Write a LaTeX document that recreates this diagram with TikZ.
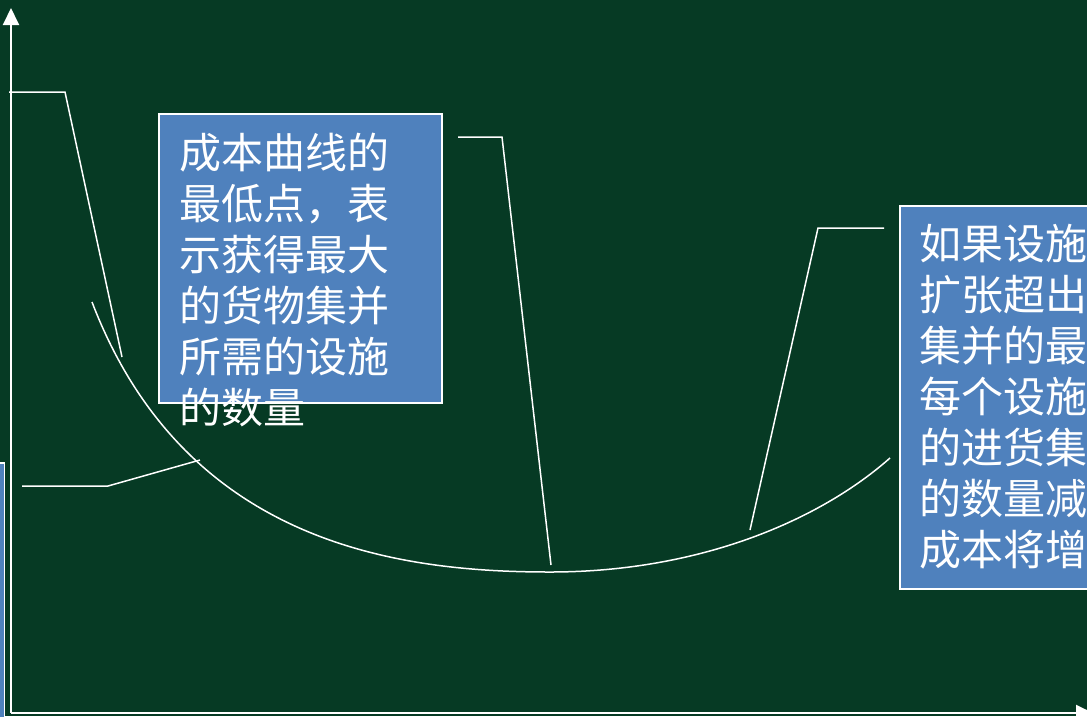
\documentclass[tikz,border=0pt]{standalone}
\usepackage{fontspec}
\newfontfamily\cjk{Noto Sans CJK SC}
\usepackage{tikz}
\definecolor{boardgreen}{HTML}{063A24}
\definecolor{noteblue}{HTML}{4F81BD}
\usetikzlibrary{arrows.meta}
\tikzstyle{nblock} = [rectangle, draw=white, line width=1.5pt, fill=noteblue, inner sep=0pt]
\tikzstyle{ntext} = [text=white, font=\cjk\fontsize{42}{51}\selectfont, align=left, inner sep=0pt, anchor=north west]
\tikzstyle{callout} = [white, line width=1.5pt]
\tikzstyle{axis} = [white, line width=2pt, -{Triangle[width=16pt,length=17pt]}]

\begin{document}
\begin{tikzpicture}[x=1pt,y=-1pt]
	\clip (0,0) rectangle (1087,716);
	\fill[boardgreen] (0,0) rectangle (1087,716);

	% axes
	\coordinate (Origin) at (11,713);
	\coordinate (YTop) at (11,8);
	\coordinate (XEnd) at (1093,713);
	\draw [axis] (Origin) -- (YTop);
	\draw [axis] (Origin) -- (XEnd);

	% boxes
	\node (LeftNote) [nblock, minimum width=200pt, minimum height=300pt, anchor=north east] at (5,462) {};
	\node (LowPoint) [nblock, minimum width=283pt, minimum height=289pt, anchor=north west] at (158,113) {};
	\node (LowPointText) [ntext] at ([shift={(21,20)}]LowPoint.north west) {成本曲线的\\最低点，表\\示获得最大\\的货物集并\\所需的设施\\的数量};
	\node (Beyond) [nblock, minimum width=300pt, minimum height=383pt, anchor=north west] at (899,205) {};
	\node (BeyondText) [ntext] at ([shift={(20,19)}]Beyond.north west) {如果设施\\扩张超出\\集并的最\\每个设施\\的进货集\\的数量减\\成本将增};

	% cost curve
	\coordinate (CurveStart) at (92,302);
	\coordinate (CurveLow) at (550,572);
	\coordinate (CurveEnd) at (890,458);
	\draw [callout] (CurveStart) .. controls (185,545) and (400,572) .. (CurveLow) .. controls (700,572) and (820,520) .. (CurveEnd);

	% callout lines
	\coordinate (c1a) at (9,92);
	\coordinate (c1b) at (122,357);
	\draw [callout] (c1a) -- +(56,0) -- (c1b);
	\coordinate (c2a) at (22,486);
	\coordinate (c2b) at (200,460);
	\draw [callout] (c2a) -- +(86,0) -- (c2b);
	\coordinate (c3a) at (458,137);
	\coordinate (c3b) at (551,565);
	\draw [callout] (c3a) -- +(44,0) -- (c3b);
	\coordinate (c4a) at (884,228);
	\coordinate (c4b) at (750,530);
	\draw [callout] (c4a) -- +(-66,0) -- (c4b);
\end{tikzpicture}
\end{document}
